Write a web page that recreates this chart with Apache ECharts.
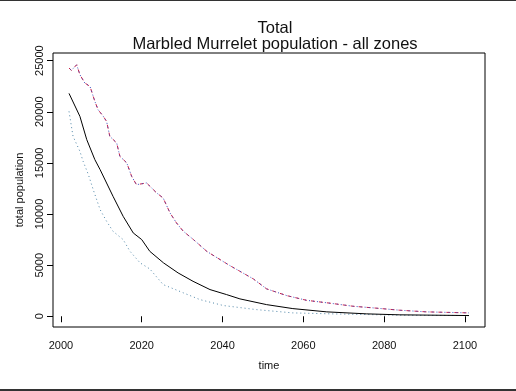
<!DOCTYPE html>
<html>
<head>
<meta charset="utf-8">
<script src="https://cdn.jsdelivr.net/npm/echarts@6/dist/echarts.min.js"></script>
<style>
html,body{margin:0;padding:0;background:#fff;}
#chart{width:516px;height:391px;}
</style>
</head>
<body>
<div id="chart"></div>
<script>
// ---- data ----
var xTicks = [2000, 2020, 2040, 2060, 2080, 2100];
var yTicks = [0, 5000, 10000, 15000, 20000, 25000];

var medianYears = [2002, 2004.7, 2006.4, 2008.4, 2009.7, 2012.9, 2015.4, 2017.9, 2020, 2022, 2025.4, 2029, 2032.7, 2036.9, 2041, 2044.3, 2050.9, 2057.4, 2065.8, 2075.7, 2083.9, 2101];
var medianValues = [21800, 19550, 17270, 15320, 14340, 11730, 9775, 8150, 7500, 6350, 5220, 4240, 3420, 2610, 2120, 1700, 1140, 750, 430, 235, 140, 70];

var upperYears = [2002, 2002.6, 2003.9, 2004.7, 2005.9, 2007.2, 2008.4, 2009.2, 2010.5, 2011.3, 2012.1, 2013.8, 2014.6, 2016.3, 2017.5, 2018.7, 2021.2, 2023.7, 2025.3, 2027, 2028.6, 2030.3, 2032.8, 2036.1, 2039.4, 2041.8, 2044.3, 2047.6, 2050.9, 2055.9, 2060.8, 2067.4, 2072.3, 2077.3, 2083.9, 2090.5, 2101];
var upperValues = [24280, 24050, 24600, 23630, 22820, 22480, 21020, 20200, 19550, 19060, 17600, 16950, 15640, 15000, 13690, 12870, 13040, 12060, 11570, 10110, 9130, 8310, 7500, 6350, 5540, 4960, 4400, 3660, 2680, 2020, 1560, 1240, 980, 820, 590, 430, 330];

var lowerYears = [2002, 2002.6, 2003, 2004.7, 2005.5, 2006.8, 2008, 2009.7, 2011.3, 2012.9, 2015.4, 2017.1, 2019.6, 2022, 2025.3, 2030.3, 2034.4, 2040.2, 2048.4, 2057.4, 2067.4, 2075.7, 2083.9, 2101];
var lowerValues = [20040, 18570, 17600, 16130, 15150, 13850, 12380, 10430, 9290, 8310, 7500, 6350, 5220, 4630, 3100, 2290, 1630, 1050, 650, 330, 230, 170, 100, 70];

function pairs(xs, ys) { return xs.map(function (x, i) { return [x, ys[i]]; }); }

var FONT = 'Liberation Sans, Arial, sans-serif';
var chart = echarts.init(document.getElementById('chart'), null, {renderer: 'canvas'});

chart.setOption({
  animation: false,
  backgroundColor: '#ffffff',
  title: {
    text: 'Total\nMarbled Murrelet population - all zones',
    left: 270, top: 15, textAlign: 'center',
    textStyle: {fontFamily: FONT, fontSize: 16.5, fontWeight: 'normal', color: '#111', lineHeight: 16}
  },
  grid: {left: 53, right: 31, top: 53, bottom: 64, show: true, borderColor: '#000', borderWidth: 1, backgroundColor: 'transparent'},
  xAxis: {
    type: 'value', min: 1998.04, max: 2104.96,
    name: 'time', nameLocation: 'middle', nameGap: 33,
    nameTextStyle: {fontFamily: FONT, fontSize: 11, color: '#111'},
    axisLine: {show: false},
    axisTick: {show: true, inside: false, length: 6, customValues: xTicks, lineStyle: {color: '#000'}},
    axisLabel: {customValues: xTicks, fontFamily: FONT, fontSize: 11, color: '#111', margin: 13, formatter: function (v) { return String(v); }},
    splitLine: {show: false}
  },
  yAxis: {
    type: 'value', min: -1050, max: 25750,
    name: 'total population', nameLocation: 'middle', nameGap: 28, nameRotate: 90,
    nameTextStyle: {fontFamily: FONT, fontSize: 11, color: '#111'},
    axisLine: {show: false},
    axisTick: {show: true, inside: false, length: 6, customValues: yTicks, lineStyle: {color: '#000'}},
    axisLabel: {customValues: yTicks, rotate: 90, fontFamily: FONT, fontSize: 11, color: '#111', margin: 8, formatter: function (v) { return String(v); }},
    splitLine: {show: false}
  },
  series: [
    {type: 'line', data: pairs(lowerYears, lowerValues), showSymbol: false, lineStyle: {color: '#4f86a8', width: 1, type: [1, 3]}},
    {type: 'line', data: pairs(upperYears, upperValues), showSymbol: false, lineStyle: {color: '#c8204a', width: 1, type: [4, 4]}},
    {type: 'line', data: pairs(upperYears, upperValues), showSymbol: false, lineStyle: {color: '#3a50c0', width: 1, type: [1, 3], dashOffset: 2}},
    {type: 'line', data: pairs(medianYears, medianValues), showSymbol: false, lineStyle: {color: '#000', width: 1, type: 'solid'}}
  ],
  graphic: [
    {type: 'rect', shape: {x: 0, y: 0, width: 516, height: 1}, style: {fill: '#333'}},
    {type: 'rect', shape: {x: 0, y: 389, width: 516, height: 2}, style: {fill: '#333'}}
  ]
});
</script>
</body>
</html>
